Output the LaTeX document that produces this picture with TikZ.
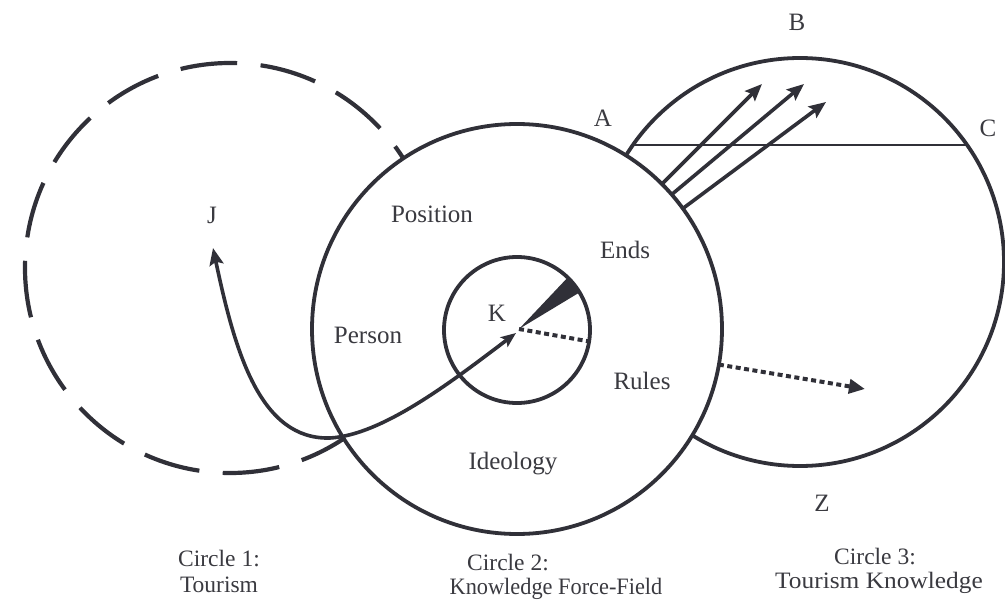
\documentclass[tikz,border=0pt]{standalone}
\usepackage{fontspec}
\setmainfont{Liberation Serif}
\usetikzlibrary{arrows.meta}
\definecolor{ink}{RGB}{48,48,56}
\definecolor{txt}{RGB}{58,58,64}
\begin{document}
\begin{tikzpicture}[x=1pt,y=-1pt,
  ring/.style={circle, draw=ink, line width=3.8pt, outer sep=0pt, inner sep=0pt},
  lbl/.style={font=\fontsize{25}{27}\selectfont, text=txt, inner sep=0pt},
  captxt/.style={font=\fontsize{23.5}{25}\selectfont, text=txt, inner sep=0pt},
  arr/.style={draw=ink, line width=3.6pt, -{Stealth[length=17pt,width=14pt,inset=3pt]}},
  dotarr/.style={draw=ink, line width=4pt, dash pattern=on 5pt off 3.5pt, -{Triangle[length=16pt,width=14pt]}},
  dotline/.style={draw=ink, line width=4pt, dash pattern=on 5pt off 3.5pt}
]
\useasboundingbox (0,0) rectangle (1005,602);
\fill[white] (0,0) rectangle (1005,602);

% Circle 1 (dashed)
\coordinate (c1) at (230,268);
\draw[ink, line width=4.2pt, dash pattern=on 57pt off 23.5pt]
  (c1) ++(-43:205) arc[start angle=-43, end angle=-403, radius=205];

% Circle 3
\node[ring, minimum size=408pt] (c3) at (800,262) {};
\draw[ink, line width=2pt] (c3.145) -- (c3.35);

% Circle 2 (covers the others)
\node[ring, fill=white, minimum size=410pt] (c2) at (517,329) {};

% inner circle K
\node[ring, minimum size=146pt] (ki) at (517,330) {};
\coordinate (kc) at (519,329);
\fill[ink] (kc) -- (ki.31) -- (ki.46) -- cycle;
\draw[dotline] (kc) -- (ki.-9);

% Curved double arrow J <-> K
\coordinate (jt) at (213,248);
\coordinate (kt) at (516,333);
\coordinate (lowp) at (330,438);
\draw[draw=ink, line width=3.6pt, {Stealth[length=17pt,width=14pt,inset=3pt]}-{Stealth[length=15pt,width=12pt,inset=3pt]}]
  (jt) .. controls (235,352) and (260,440) .. (lowp)
       .. controls (382,435) and (450,383) .. (kt);

% three arrows out of circle 2
\coordinate (e1) at (762,84);
\coordinate (e2) at (804,84);
\coordinate (e3) at (826,102);
\draw[arr] (c2.45.5) -- (e1);
\draw[arr] (c2.41) -- (e2);
\draw[arr] (c2.36.5) -- (e3);

% dotted arrow from circle 2 into circle 3
\coordinate (e4) at (865,389);
\draw[dotarr] (c2.-10) -- (e4);

% labels
\node[lbl] (lA) at (603,118) {A};
\node[lbl] (lB) at (797,22) {B};
\node[lbl] (lC) at (988,128) {C};
\node[lbl] (lJ) at (212,215) {J};
\node[lbl] (lK) at (497,313) {K};
\node[lbl] (lZ) at (822,503) {Z};
\node[lbl] (lpos) at (432,214) {Position};
\node[lbl] (lend) at (625,250) {Ends};
\node[lbl] (lper) at (368,335) {Person};
\node[lbl] (lrul) at (642,381) {Rules};
\node[lbl] (lide) at (513,464) {Ideology};

\node[captxt] (t1a) at (219,559) {Circle 1:};
\node[captxt] (t1b) at (219,585) {Tourism};
\node[captxt] (t2a) at (508,563) {Circle 2:};
\node[captxt, xscale=0.95, transform shape] (t2b) at (556,589) {Knowledge Force-Field};
\node[captxt] (t3a) at (875,557) {Circle 3:};
\node[captxt, xscale=1.08, transform shape] (t3b) at (879,583) {Tourism Knowledge};
\end{tikzpicture}
\end{document}
